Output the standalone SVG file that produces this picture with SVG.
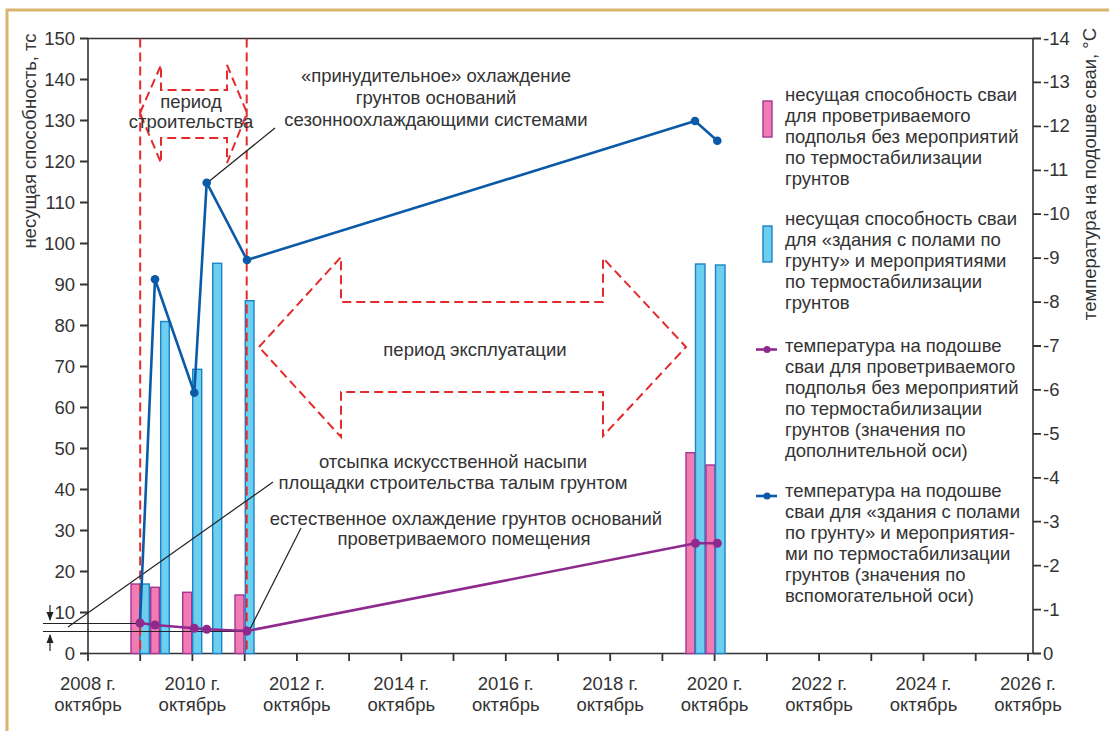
<svg xmlns="http://www.w3.org/2000/svg" width="1109" height="731" viewBox="0 0 1109 731">
<style>
text{font-family:"Liberation Sans",Arial,sans-serif;font-size:18.5px;fill:#333}
.axis{stroke:#333;stroke-width:1.6;fill:none}
.tick{stroke:#333;stroke-width:1.8}
.pink{fill:#f07cb3;stroke:#a33594;stroke-width:1.4}
.blue{fill:#6dcff0;stroke:#1d82c6;stroke-width:1.4}
.red{stroke:#e42a2a;stroke-width:2;stroke-dasharray:9 5;fill:none}
.lead{stroke:#222;stroke-width:1.2;fill:none}
.bl{stroke:#0b5aa8;stroke-width:2.6;fill:none;stroke-linejoin:round}
.pl{stroke:#8e2a8e;stroke-width:2.6;fill:none;stroke-linejoin:round}
.bm{fill:#0b5aa8}
.pm{fill:#8e2a8e}
.c{text-anchor:middle}
.e{text-anchor:end}
</style>
<defs>
<marker id="ah" markerWidth="10" markerHeight="8" refX="8" refY="4" orient="auto" markerUnits="userSpaceOnUse">
<path d="M0,0.5 L9,4 L0,7.5 Z" fill="#222"/>
</marker>
</defs>
<rect x="0" y="0" width="1109" height="731" fill="#fff"/>
<rect x="7" y="10" width="1110" height="730" fill="#fff" stroke="#d8b56e" stroke-width="3"/>

<g id="axes">
<path class="axis" d="M88,38.5 V653.5 H1033 V38.5 H88"/>
<g class="tick">
<path d="M80,653.5H88M80,612.5H88M80,571.5H88M80,530.5H88M80,489.5H88M80,448.5H88M80,407.5H88M80,366.5H88M80,325.5H88M80,284.5H88M80,243.5H88M80,202.5H88M80,161.5H88M80,120.5H88M80,79.5H88M80,38.5H88"/>
<path d="M1033,653.5H1041M1033,609.6H1041M1033,565.6H1041M1033,521.7H1041M1033,477.8H1041M1033,433.9H1041M1033,389.9H1041M1033,346H1041M1033,302.1H1041M1033,258.1H1041M1033,214.2H1041M1033,170.3H1041M1033,126.3H1041M1033,82.4H1041M1033,38.5H1041"/>
<path d="M88,653.5V661M140.2,653.5V661M192.4,653.5V661M244.7,653.5V661M296.9,653.5V661M349.1,653.5V661M401.3,653.5V661M453.5,653.5V661M505.8,653.5V661M558,653.5V661M610.2,653.5V661M662.4,653.5V661M714.6,653.5V661M766.9,653.5V661M819.1,653.5V661M871.3,653.5V661M923.5,653.5V661M975.7,653.5V661M1028,653.5V661"/>
</g>
<g class="e">
<text x="75" y="660">0</text><text x="75" y="619">10</text><text x="75" y="578">20</text><text x="75" y="537">30</text>
<text x="75" y="496">40</text><text x="75" y="455">50</text><text x="75" y="414">60</text><text x="75" y="373">70</text>
<text x="75" y="332">80</text><text x="75" y="291">90</text><text x="75" y="250">100</text><text x="75" y="209">110</text>
<text x="75" y="168">120</text><text x="75" y="127">130</text><text x="75" y="86">140</text><text x="75" y="45">150</text>
</g>
<g>
<text x="1043" y="660">0</text><text x="1043" y="616">-1</text><text x="1043" y="572">-2</text><text x="1043" y="528">-3</text>
<text x="1043" y="484">-4</text><text x="1043" y="440">-5</text><text x="1043" y="396">-6</text><text x="1043" y="352">-7</text>
<text x="1043" y="308">-8</text><text x="1043" y="264">-9</text><text x="1043" y="220">-10</text><text x="1043" y="176">-11</text>
<text x="1043" y="132">-12</text><text x="1043" y="88">-13</text><text x="1043" y="45">-14</text>
</g>
<g class="c">
<text x="88" y="690">2008 г.</text><text x="88" y="711">октябрь</text>
<text x="192.4" y="690">2010 г.</text><text x="192.4" y="711">октябрь</text>
<text x="296.9" y="690">2012 г.</text><text x="296.9" y="711">октябрь</text>
<text x="401.3" y="690">2014 г.</text><text x="401.3" y="711">октябрь</text>
<text x="505.8" y="690">2016 г.</text><text x="505.8" y="711">октябрь</text>
<text x="610.2" y="690">2018 г.</text><text x="610.2" y="711">октябрь</text>
<text x="714.6" y="690">2020 г.</text><text x="714.6" y="711">октябрь</text>
<text x="819.1" y="690">2022 г.</text><text x="819.1" y="711">октябрь</text>
<text x="923.5" y="690">2024 г.</text><text x="923.5" y="711">октябрь</text>
<text x="1028" y="690">2026 г.</text><text x="1028" y="711">октябрь</text>
</g>
<text class="c" transform="translate(36,141) rotate(-90)">несущая способность, тс</text>
<text class="c" transform="translate(1096,174) rotate(-90)">температура на подошве сваи, °С</text>
</g>

<g id="bars">
<rect class="pink" x="131" y="584" width="9" height="69.5"/>
<rect class="blue" x="140" y="584" width="9.3" height="69.5"/>
<rect class="pink" x="150.7" y="587.3" width="8.6" height="66.2"/>
<rect class="blue" x="160.7" y="321.5" width="8.6" height="332"/>
<rect class="pink" x="182.7" y="592.3" width="9" height="61.2"/>
<rect class="blue" x="192.7" y="369.3" width="9" height="284.2"/>
<rect class="blue" x="212.7" y="263.3" width="9" height="390.2"/>
<rect class="pink" x="235" y="595" width="9" height="58.5"/>
<rect class="blue" x="245.3" y="300.7" width="8.7" height="352.8"/>
<rect class="pink" x="686" y="452.7" width="9" height="200.8"/>
<rect class="blue" x="695.5" y="264" width="9.5" height="389.5"/>
<rect class="pink" x="706" y="465" width="9" height="188.5"/>
<rect class="blue" x="715.5" y="265" width="9.5" height="388.5"/>
</g>

<g id="periods">
<path class="red" d="M140.2,38.5V653.5M246.7,38.5V653.5"/>
<path class="red" d="M140,113 L161,65 V90 H227 V65 L247,113 L227,163 V138 H161 V163 Z"/>
<text class="c" x="191" y="108">период</text>
<text class="c" x="191" y="128">строительства</text>
<path class="red" d="M259,347 L341,257 V302 H603 V258 L686,347 L603,436 V392 H341 V437 Z"/>
<text class="c" x="475" y="356">период эксплуатации</text>
</g>

<g id="connectors">
<path class="lead" d="M207,183 L275,128"/>
<path class="lead" d="M273,482 L68,627"/>
<path class="lead" d="M301,528 L249,631"/>
<path class="lead" d="M43,623.5 H140 M43,631.5 H247"/>
<path class="lead" stroke-width="1.6" d="M50,605 V620" marker-end="url(#ah)"/>
<path class="lead" stroke-width="1.6" d="M50,651 V635" marker-end="url(#ah)"/>
</g>

<g id="series-blue">
<polyline class="bl" points="140,623 155,279.3 194.3,392.7 206.7,182.7 247,260 695,121 717.3,140.7"/>
<circle class="bm" cx="155" cy="279.3" r="4.3"/>
<circle class="bm" cx="194.3" cy="392.7" r="4.3"/>
<circle class="bm" cx="206.7" cy="182.7" r="4.3"/>
<circle class="bm" cx="247" cy="260" r="4.3"/>
<circle class="bm" cx="695" cy="121" r="4.3"/>
<circle class="bm" cx="717.3" cy="140.7" r="4.3"/>
</g>

<g id="series-purple">
<polyline class="pl" points="140,623 155,625 194.3,628.3 206.7,629.3 247,631 695.5,543.3 717.3,543.3"/>
<circle class="pm" cx="140" cy="623" r="4.5"/>
<circle class="pm" cx="155" cy="625" r="4.5"/>
<circle class="pm" cx="194.3" cy="628.3" r="4.5"/>
<circle class="pm" cx="206.7" cy="629.3" r="4.5"/>
<circle class="pm" cx="247" cy="631" r="4.5"/>
<circle class="pm" cx="695.5" cy="543.3" r="4.5"/>
<circle class="pm" cx="717.3" cy="543.3" r="4.5"/>
</g>

<g id="annotations" class="c">
<text x="436" y="82">«принудительное» охлаждение</text>
<text x="436" y="104">грунтов оснований</text>
<text x="436" y="126">сезонноохлаждающими системами</text>
<text x="453" y="468">отсыпка искусственной насыпи</text>
<text x="453" y="489">площадки строительства талым грунтом</text>
<text x="466" y="525">естественное охлаждение грунтов оснований</text>
<text x="464" y="545">проветриваемого помещения</text>
</g>

<g id="legend">
<rect class="pink" x="763" y="101" width="9" height="36"/>
<rect class="blue" x="763" y="226" width="9" height="36"/>
<path class="pl" d="M756,349.5H777"/><circle class="pm" cx="767" cy="349.5" r="3.5"/>
<path class="bl" d="M756,496H777"/><circle class="bm" cx="767" cy="496" r="3.5"/>
<text x="785" y="101"><tspan x="785">несущая способность сваи</tspan><tspan x="785" dy="21">для проветриваемого</tspan><tspan x="785" dy="21">подполья без мероприятий</tspan><tspan x="785" dy="21">по термостабилизации</tspan><tspan x="785" dy="21">грунтов</tspan></text>
<text x="785" y="225"><tspan x="785">несущая способность сваи</tspan><tspan x="785" dy="21">для «здания с полами по</tspan><tspan x="785" dy="21">грунту» и мероприятиями</tspan><tspan x="785" dy="21">по термостабилизации</tspan><tspan x="785" dy="21">грунтов</tspan></text>
<text x="785" y="352"><tspan x="785">температура на подошве</tspan><tspan x="785" dy="21">сваи для проветриваемого</tspan><tspan x="785" dy="21">подполья без мероприятий</tspan><tspan x="785" dy="21">по термостабилизации</tspan><tspan x="785" dy="21">грунтов (значения по</tspan><tspan x="785" dy="21">дополнительной оси)</tspan></text>
<text x="785" y="497"><tspan x="785">температура на подошве</tspan><tspan x="785" dy="21">сваи для «здания с полами</tspan><tspan x="785" dy="21">по грунту» и мероприятия-</tspan><tspan x="785" dy="21">ми по термостабилизации</tspan><tspan x="785" dy="21">грунтов (значения по</tspan><tspan x="785" dy="21">вспомогательной оси)</tspan></text>
</g>
</svg>
